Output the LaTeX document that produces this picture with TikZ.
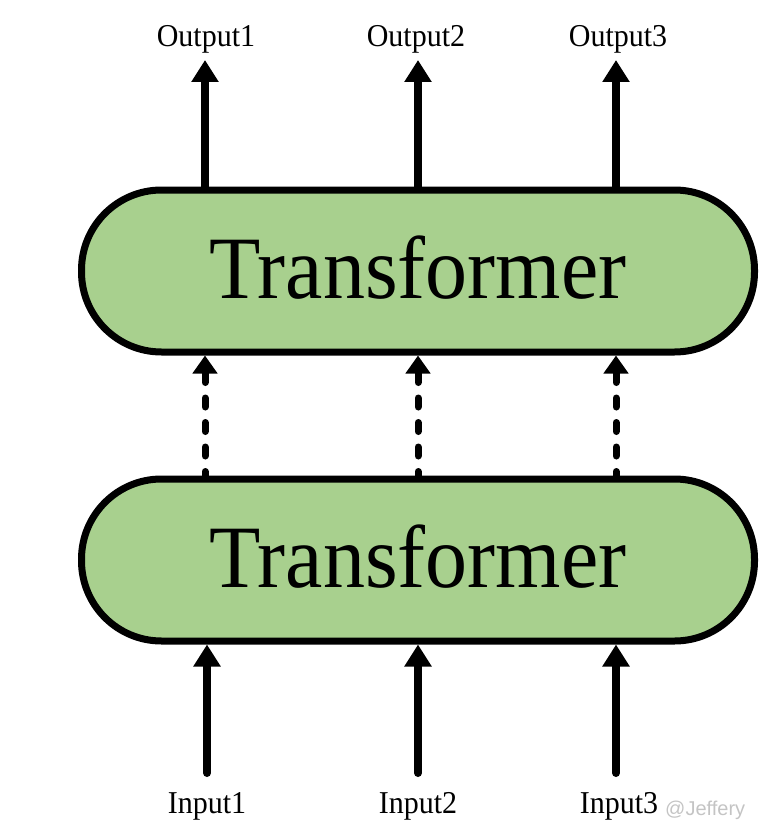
\documentclass[tikz,border=0pt]{standalone}
\usepackage{fontspec}
\setmainfont{Liberation Serif}
\newfontfamily\markfont{Liberation Sans}
\usepackage{graphicx}
\usetikzlibrary{arrows.meta}

\definecolor{boxgreen}{RGB}{168,208,142}
\definecolor{markgray}{RGB}{196,196,196}

% slightly taller glyphs than the plain font
\newcommand\tallstretch[1]{\scalebox{1}[1.06]{#1}}

\tikzset{
  block/.style={draw=black, fill=boxgreen, line width=7pt, rounded corners=80pt,
    minimum width=673pt, minimum height=162pt, inner sep=0pt, text depth=7pt,
    font=\fontsize{84}{90}\selectfont},
  iolabel/.style={anchor=base, inner sep=0pt, font=\fontsize{30}{36}\selectfont},
  flow/.style={line width=8pt, -{Triangle[length=22pt,width=26pt]}},
  inflow/.style={flow, line cap=round},
  skip/.style={line width=7pt, line cap=round, dash pattern=on 9pt off 15.5pt,
    dash phase=5pt, -{Triangle[length=18pt,width=24pt]}},
  wmark/.style={anchor=base west, inner sep=0pt, text=markgray,
    font=\markfont\fontsize{20}{24}\selectfont},
}

\begin{document}
\begin{tikzpicture}[x=1pt,y=-1pt]
\useasboundingbox (0,0) rectangle (782,821);

% the two stacked Transformer blocks
\node[block] (upper) at (418,271) {\tallstretch{Transformer}};
\node[block] (lower) at (418,560) {\tallstretch{Transformer}};

% output labels and arrow tips
\node[iolabel] (o1) at (206,47) {\tallstretch{Output1}};
\node[iolabel] (o2) at (416,47) {\tallstretch{Output2}};
\node[iolabel] (o3) at (618,47) {\tallstretch{Output3}};
\coordinate (out1) at (205,60);
\coordinate (out2) at (418,60);
\coordinate (out3) at (616,60);

% input labels and arrow tails
\node[iolabel] (i1) at (207,813) {\tallstretch{Input1}};
\node[iolabel] (i2) at (418,813) {\tallstretch{Input2}};
\node[iolabel] (i3) at (619,813) {\tallstretch{Input3}};
\coordinate (in1) at (207,773);
\coordinate (in2) at (418,773);
\coordinate (in3) at (616,773);

% outputs leaving the upper block
\draw[flow] (upper.north -| out1) -- (out1);
\draw[flow] (upper.north -| out2) -- (out2);
\draw[flow] (upper.north -| out3) -- (out3);

% stacked layers in between
\draw[skip] (lower.north -| out1) -- (upper.south -| out1);
\draw[skip] (lower.north -| out2) -- (upper.south -| out2);
\draw[skip] (lower.north -| out3) -- (upper.south -| out3);

% inputs entering the lower block
\draw[inflow] (in1) -- (lower.south -| in1);
\draw[inflow] (in2) -- (lower.south -| in2);
\draw[inflow] (in3) -- (lower.south -| in3);

\node[wmark] (mark) at (665,815) {@Jeffery};
\end{tikzpicture}
\end{document}
